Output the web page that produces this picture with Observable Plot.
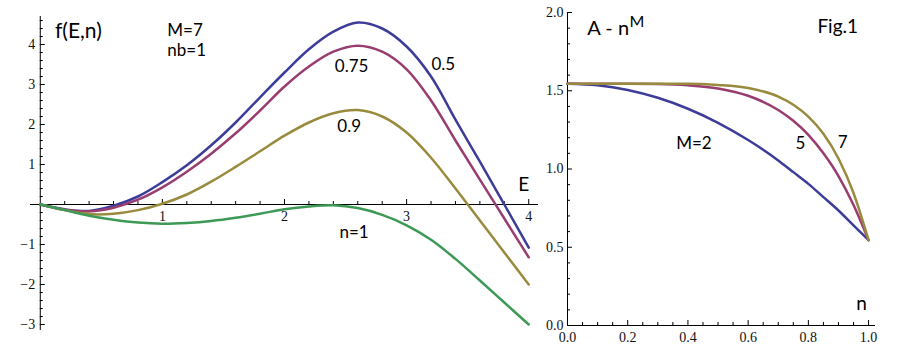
<!DOCTYPE html>
<html>
<head>
<meta charset="utf-8">
<script src="https://cdn.jsdelivr.net/npm/d3@7"></script>
<script src="https://cdn.jsdelivr.net/npm/@observablehq/plot@0.6"></script>
<style>
  html, body { margin: 0; padding: 0; background: #fff; }
  #wrap { position: relative; width: 900px; height: 350px; overflow: hidden; }
  #left { position: absolute; left: 0; top: 0; }
  #right { position: absolute; left: 540px; top: 0; }
</style>
</head>
<body>
<div id="wrap"><div id="left"></div><div id="right"></div></div>
<script>
// ---------- Left panel: f(E,n), M=7, nb=1 ----------
const E      = [0, 0.2, 0.4, 0.6, 0.8, 1.0, 1.2, 1.4, 1.6, 1.8, 2.0, 2.2, 2.4, 2.6, 2.8, 3.0, 3.2, 3.4, 3.6, 3.8, 4.0];
const f_n05  = [0, -0.12, -0.16, -0.03, 0.2, 0.56, 0.98, 1.48, 2.05, 2.68, 3.3, 3.88, 4.32, 4.55, 4.4, 3.95, 3.2, 2.12, 1.07, 0.0, -1.08];
const f_n075 = [0, -0.13, -0.17, -0.08, 0.12, 0.43, 0.82, 1.27, 1.78, 2.35, 2.95, 3.45, 3.82, 3.97, 3.82, 3.38, 2.6, 1.6, 0.62, -0.35, -1.32];
const f_n09  = [0, -0.14, -0.24, -0.23, -0.14, 0.02, 0.25, 0.57, 0.94, 1.33, 1.72, 2.05, 2.28, 2.36, 2.2, 1.8, 1.17, 0.4, -0.4, -1.2, -2.0];
const f_n1   = [0, -0.14, -0.28, -0.38, -0.45, -0.48, -0.46, -0.41, -0.33, -0.23, -0.12, -0.05, -0.02, -0.09, -0.26, -0.52, -0.88, -1.36, -1.9, -2.45, -3.0];
const leftSeries = [
  {key: "0.5",  values: f_n05,  color: "#3D3D99"},
  {key: "0.75", values: f_n075, color: "#993D71"},
  {key: "0.9",  values: f_n09,  color: "#998B3D"},
  {key: "1",    values: f_n1,   color: "#3D9956"}
];
const leftXMajor = [1, 2, 3, 4];
const leftYMajor = [-3, -2, -1, 1, 2, 3, 4];
const leftLabels = [
  {x: 2.55, y: 3.45, t: "0.75"},
  {x: 3.30, y: 3.51, t: "0.5"},
  {x: 2.53, y: 1.94, t: "0.9"},
  {x: 2.57, y: -0.71, t: "n=1"}
];

// ---------- Right panel: A - n^M ----------
const nVals = [0, 0.1, 0.2, 0.3, 0.4, 0.5, 0.6, 0.7, 0.75, 0.8, 0.85, 0.9, 0.95, 1.0];
const a_M2  = [1.545, 1.535, 1.505, 1.455, 1.385, 1.295, 1.185, 1.055, 0.98, 0.905, 0.82, 0.735, 0.64, 0.545];
const a_M5  = [1.545, 1.545, 1.545, 1.543, 1.535, 1.515, 1.468, 1.377, 1.308, 1.218, 1.10, 0.955, 0.77, 0.545];
const a_M7  = [1.545, 1.545, 1.545, 1.545, 1.545, 1.537, 1.517, 1.463, 1.411, 1.335, 1.225, 1.067, 0.847, 0.545];
const rightSeries = [
  {key: "2", values: a_M2, color: "#3D3D99"},
  {key: "5", values: a_M5, color: "#993D71"},
  {key: "7", values: a_M7, color: "#998B3D"}
];
const rightXMajor = [0, 0.2, 0.4, 0.6, 0.8, 1.0];
const rightYMajor = [0, 0.5, 1.0, 1.5, 2.0];
const rightLabels = [
  {x: 0.42, y: 1.16, t: "M=2", anchor: "start"},
  {x: 0.774, y: 1.16, t: "5", anchor: "middle"},
  {x: 0.914, y: 1.17, t: "7", anchor: "middle"}
];

const range = (a, b, s) => { const r = []; for (let v = a; v <= b + 1e-9; v += s) r.push(+v.toFixed(4)); return r; };
const fmtMinus = v => (v < 0 ? "\u2212" + Math.abs(v) : String(v));
const tickFont = "'Liberation Serif', 'DejaVu Serif', serif";
const labelFont = "Lato, 'Open Sans', sans-serif";

// long-format tables
const leftData = leftSeries.flatMap(s => E.map((e, i) => ({E: e, f: s.values[i], key: s.key})));
const rightData = rightSeries.flatMap(s => nVals.map((n, i) => ({n, a: s.values[i], key: s.key})));

const leftMinorX = range(0, 4.0, 0.2).filter(v => v !== 0 && !leftXMajor.includes(v));
const leftMinorY = range(-3.0, 4.6, 0.2).filter(v => Math.abs(v) > 1e-6 && !leftYMajor.includes(Math.round(v * 1000) / 1000));

const left = Plot.plot({
  width: 545, height: 350,
  marginLeft: 30, marginRight: 7, marginTop: 16, marginBottom: 20,
  style: {background: "transparent", overflow: "visible"},
  x: {domain: [-0.08, 4.08], axis: null},
  y: {domain: [-3.15, 4.7], axis: null},
  color: {domain: leftSeries.map(s => s.key), range: leftSeries.map(s => s.color)},
  marks: [
    Plot.ruleY([0], {stroke: "#000", strokeWidth: 1}),
    Plot.ruleX([0], {stroke: "#000", strokeWidth: 1}),
    Plot.ruleX(leftXMajor, {x: d => d, y1: 0, y2: 0, insetTop: -5, stroke: "#000"}),
    Plot.ruleX(leftMinorX, {x: d => d, y1: 0, y2: 0, insetTop: -3, stroke: "#000"}),
    Plot.ruleY(leftYMajor, {y: d => d, x1: 0, x2: 0, insetRight: -5, stroke: "#000"}),
    Plot.ruleY(leftMinorY, {y: d => d, x1: 0, x2: 0, insetRight: -3, stroke: "#000"}),
    Plot.text(leftXMajor, {x: d => d, y: 0, text: d => String(d), dy: 12, fontFamily: tickFont, fontSize: 14, fill: "#111"}),
    Plot.text(leftYMajor, {x: 0, y: d => d, text: fmtMinus, dx: -5, textAnchor: "end", fontFamily: tickFont, fontSize: 14, fill: "#111"}),
    Plot.line(leftData, {x: "E", y: "f", z: "key", stroke: "key", strokeWidth: 2.5, curve: "catmull-rom"}),
    Plot.text(leftLabels, {x: "x", y: "y", text: "t", fontFamily: labelFont, fontSize: 17, fill: "#000"}),
    Plot.text(["f(E,n)"], {x: 0.12, y: 4.33, text: d => d, textAnchor: "start", fontFamily: labelFont, fontSize: 21, fill: "#000"}),
    Plot.text(["M=7"], {x: 1.04, y: 4.35, text: d => d, textAnchor: "start", fontFamily: labelFont, fontSize: 17, fill: "#000"}),
    Plot.text(["nb=1"], {x: 1.04, y: 3.85, text: d => d, textAnchor: "start", fontFamily: labelFont, fontSize: 17, fill: "#000"}),
    Plot.text(["E"], {x: 3.96, y: 0.49, text: d => d, fontFamily: labelFont, fontSize: 19, fill: "#000"})
  ]
});
document.getElementById("left").appendChild(left);

const rightMinorX = range(0, 1.0, 0.05).filter(v => !rightXMajor.some(m => Math.abs(m - v) < 1e-6));
const rightMinorY = range(0, 2.0, 0.1).filter(v => !rightYMajor.some(m => Math.abs(m - v) < 1e-6));

const right = Plot.plot({
  width: 360, height: 350,
  marginLeft: 27, marginRight: 25, marginTop: 12, marginBottom: 25,
  style: {background: "transparent", overflow: "visible"},
  x: {domain: [0, 1.023], axis: null},
  y: {domain: [0, 2.0], axis: null},
  color: {domain: rightSeries.map(s => s.key), range: rightSeries.map(s => s.color)},
  marks: [
    Plot.ruleY([0], {stroke: "#000", strokeWidth: 1}),
    Plot.ruleX([0], {y1: 0, y2: 2.0, stroke: "#000", strokeWidth: 1}),
    Plot.ruleX(rightXMajor.filter(v => v > 0), {x: d => d, y1: 0, y2: 0, insetTop: -5, stroke: "#000"}),
    Plot.ruleX(rightMinorX, {x: d => d, y1: 0, y2: 0, insetTop: -3, stroke: "#000"}),
    Plot.ruleY(rightYMajor.filter(v => v > 0), {y: d => d, x1: 0, x2: 0, insetRight: -5, stroke: "#000"}),
    Plot.ruleY(rightMinorY, {y: d => d, x1: 0, x2: 0, insetRight: -3, stroke: "#000"}),
    Plot.text(rightXMajor, {x: d => d, y: 0, text: d => d.toFixed(1), dy: 12, fontFamily: tickFont, fontSize: 14, fill: "#111"}),
    Plot.text(rightYMajor, {x: 0, y: d => d, text: d => d.toFixed(1), dx: -4, textAnchor: "end", fontFamily: tickFont, fontSize: 14, fill: "#111"}),
    Plot.line(rightData, {x: "n", y: "a", z: "key", stroke: "key", strokeWidth: 2.5, curve: "monotone-x"}),
    Plot.text(rightLabels, {x: "x", y: "y", text: "t", textAnchor: d => d.anchor, fontFamily: labelFont, fontSize: 17, fill: "#000"}),
    Plot.text(["A - n"], {x: 0.066, y: 1.90, text: d => d, textAnchor: "start", fontFamily: labelFont, fontSize: 20, fill: "#000"}),
    Plot.text(["M"], {x: 0.206, y: 1.94, text: d => d, textAnchor: "start", fontFamily: labelFont, fontSize: 16, fill: "#000"}),
    Plot.text(["Fig.1"], {x: 0.83, y: 1.91, text: d => d, textAnchor: "start", fontFamily: labelFont, fontSize: 19, fill: "#000"}),
    Plot.text(["n"], {x: 0.977, y: 0.14, text: d => d, fontFamily: labelFont, fontSize: 19, fill: "#000"})
  ]
});
document.getElementById("right").appendChild(right);
</script>
</body>
</html>
